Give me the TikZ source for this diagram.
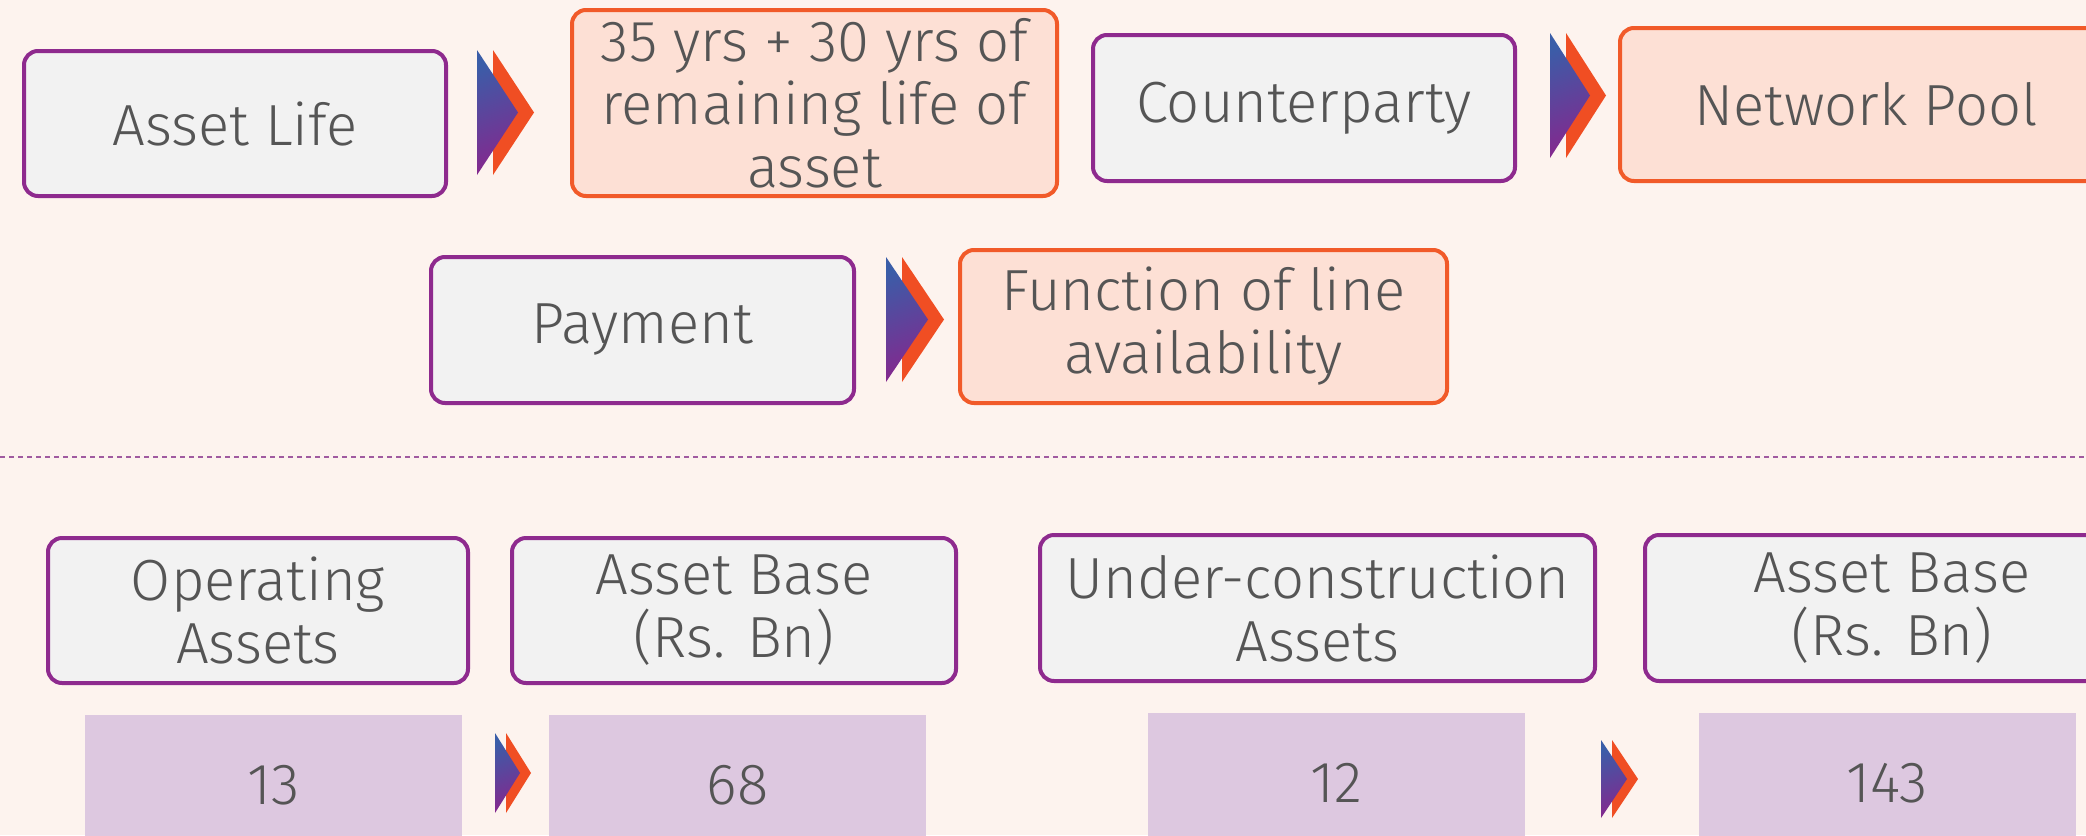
\documentclass[tikz,border=0pt]{standalone}
\usepackage{fontspec}
\setmainfont{Fira Sans Light}
\usetikzlibrary{shapes.misc}
\definecolor{bgc}{HTML}{FDF3EE}
\definecolor{boxgray}{HTML}{F2F2F2}
\definecolor{boxpurple}{HTML}{8E2A8E}
\definecolor{peach}{HTML}{FDE0D5}
\definecolor{orgline}{HTML}{F15A29}
\definecolor{orgchev}{HTML}{F04E23}
\definecolor{valfill}{HTML}{DDC8E0}
\definecolor{txt}{HTML}{555555}
\definecolor{chblue}{HTML}{3A5DA8}
\definecolor{chpurple}{HTML}{84288E}
\definecolor{dashc}{HTML}{A05AA0}
\newcommand{\chevpair}[5]{% left x, center y, half height, width, offset
  \fill[orgchev] (#1+#5,#2-#3) -- (#1+#5+#4,#2) -- (#1+#5,#2+#3) -- cycle;
  \shade[top color=chblue, bottom color=chpurple, shading angle=20]
    (#1,#2-#3) -- (#1+#4,#2) -- (#1,#2+#3) -- cycle;}
\begin{document}
\begin{tikzpicture}[x=0.5pt,y=-0.5pt,
  every node/.style={text=txt, align=center, inner sep=0pt,
    font=\fontsize{29}{31.5}\selectfont},
  gbox/.style={draw=boxpurple, line width=2pt, fill=boxgray, rounded corners=7pt},
  obox/.style={draw=orgline, line width=2pt, fill=peach, rounded corners=7pt},
  vbox/.style={fill=valfill, minimum width=188.5pt, minimum height=70pt},
]
\useasboundingbox (0,0) rectangle (2086,835);
\begin{scope}
\clip (0,0) rectangle (2086,835);
\fill[bgc] (0,0) rectangle (2086,835);
% top rows
\node[gbox, minimum width=211pt, minimum height=72.5pt] (life) at (235,123.5) {Asset Life};
\node[obox, minimum width=242.5pt, minimum height=93pt] (yrs) at (814.5,103) {35 yrs + 30 yrs of\\remaining life of\\asset};
\node[gbox, minimum width=211pt, minimum height=73pt] (cpty) at (1304,108) {Counterparty};
\node[obox, minimum width=246pt, minimum height=76.5pt] (pool) at (1866,104.5) {Network Pool};
\node[gbox, minimum width=211.5pt, minimum height=73pt] (pay) at (642.5,330) {Payment};
\node[obox, minimum width=243.5pt, minimum height=76.5pt] (func) at (1203.5,326.5) {Function of line\\availability};
\chevpair{477}{112.5}{62.5}{41}{16}
\chevpair{1550}{95.5}{62.5}{40}{16}
\chevpair{886}{319.5}{62.5}{42}{16}
% divider
\draw[dashc, line width=1pt, dash pattern=on 2.5pt off 2pt] (0,457) -- (2086,457);
% bottom
\node[gbox, minimum width=210pt, minimum height=72.5pt] (op) at (258,610.5) {Operating\\Assets};
\node[gbox, minimum width=222pt, minimum height=72.5pt] (ab1) at (734,610.5) {Asset Base\\(Rs. Bn)};
\node[gbox, minimum width=277.5pt, minimum height=73pt] (uc) at (1317.5,608) {Under-construction\\Assets};
\node[gbox, minimum width=247pt, minimum height=73pt] (ab2) at (1892,608) {Asset Base\\(Rs. Bn)};
\node[vbox] (v13) at (273.5,785) {13};
\node[vbox] (v68) at (737.5,785) {68};
\node[vbox] (v12) at (1336.5,783) {12};
\node[vbox] (v143) at (1887,783) {143};
\chevpair{495}{773}{40}{25}{11}
\chevpair{1601}{779}{39}{26}{11}
\end{scope}
\end{tikzpicture}
\end{document}
